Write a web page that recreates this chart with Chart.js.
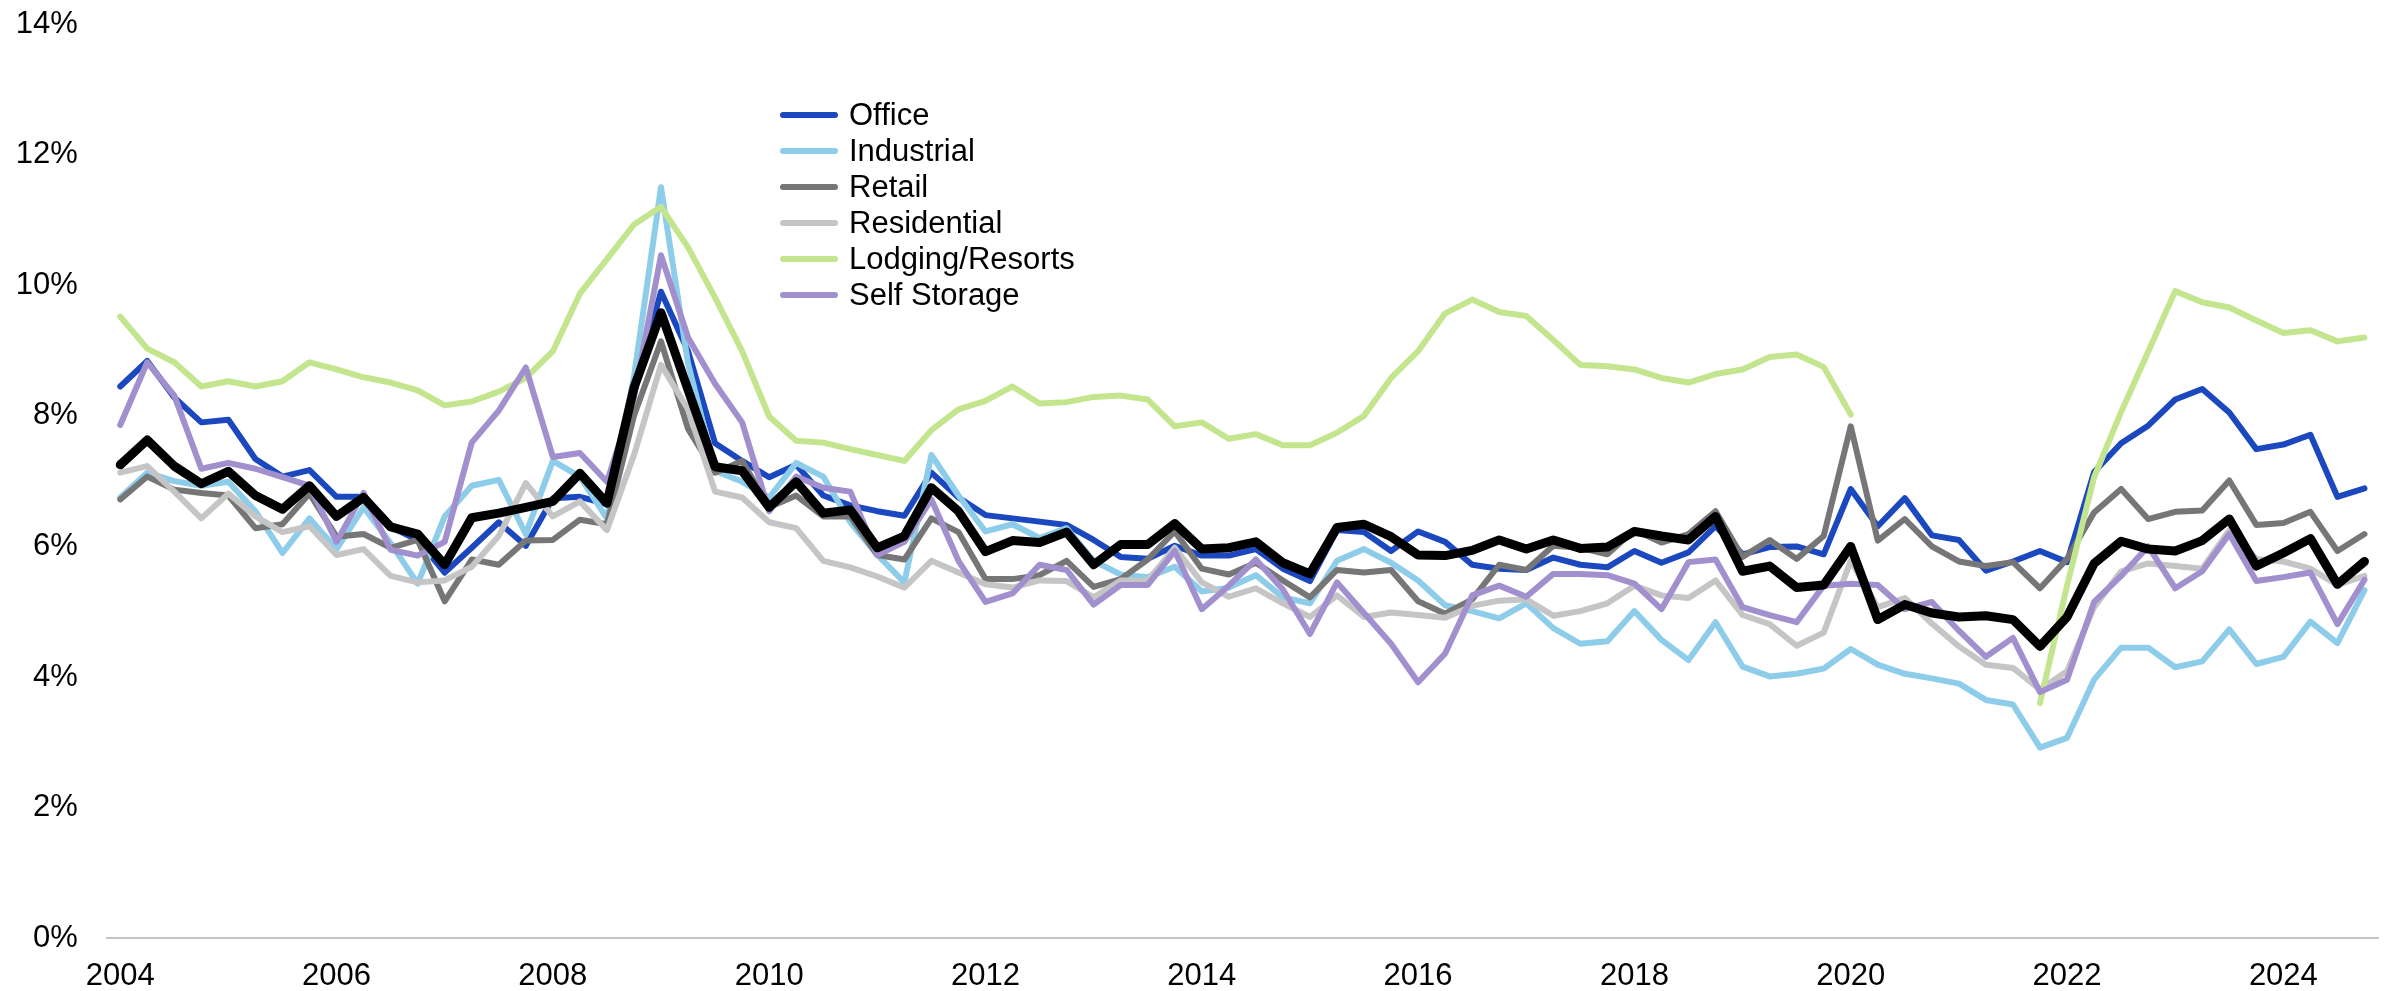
<!DOCTYPE html>
<html><head><meta charset="utf-8">
<script src="https://cdn.jsdelivr.net/npm/chart.js@4"></script>
<style>html,body{margin:0;padding:0;background:#fff;} canvas{display:block;}</style>
</head><body>
<canvas id="c" width="2392" height="991"></canvas>
<script>
const years = [2004,2005,2006,2007,2008,2009,2010,2011,2012,2013,2014,2015,2016,2017,2018,2019,2020,2021,2022,2023,2024];
const quarters = ['Q1','Q2','Q3','Q4'];
const categories = [];
years.forEach(y => quarters.forEach(q => categories.push(y + ' ' + q)));
const tickLabels = ['2004','2006','2008','2010','2012','2014','2016','2018','2020','2022','2024'];
const yTicks = [0,2,4,6,8,10,12,14];

const office = [8.45,8.84,8.28,7.90,7.94,7.34,7.07,7.17,6.76,6.76,6.30,6.10,5.60,5.98,6.37,6.01,6.74,6.76,6.65,8.40,9.90,8.99,7.58,7.31,7.06,7.25,6.78,6.63,6.54,6.47,7.13,6.75,6.48,6.43,6.38,6.33,6.10,5.84,5.81,6.01,5.86,5.86,5.96,5.66,5.47,6.25,6.22,5.93,6.23,6.07,5.72,5.66,5.64,5.83,5.72,5.68,5.93,5.75,5.91,6.31,5.88,5.99,6.00,5.88,6.88,6.31,6.74,6.17,6.10,5.63,5.77,5.93,5.76,7.14,7.58,7.85,8.25,8.41,8.05,7.49,7.56,7.71,6.76,6.89];
const industrial = [6.75,7.13,7.00,6.93,6.99,6.54,5.90,6.43,5.96,6.60,6.05,5.43,6.46,6.93,7.02,6.19,7.31,7.07,6.43,8.60,11.50,8.80,7.16,6.99,6.75,7.28,7.07,6.37,5.87,5.45,7.40,6.78,6.23,6.34,6.13,6.28,5.78,5.57,5.53,5.69,5.31,5.37,5.56,5.22,5.13,5.78,5.96,5.75,5.48,5.10,5.01,4.90,5.13,4.75,4.51,4.55,5.01,4.57,4.26,4.84,4.16,4.01,4.05,4.13,4.43,4.19,4.05,3.98,3.90,3.65,3.58,2.92,3.07,3.96,4.45,4.45,4.15,4.24,4.73,4.20,4.31,4.85,4.52,5.33];
const retail = [6.72,7.07,6.87,6.82,6.78,6.28,6.34,6.81,6.15,6.19,5.98,6.10,5.16,5.80,5.72,6.09,6.10,6.41,6.34,8.00,9.14,7.80,7.13,7.31,6.60,6.78,6.46,6.46,5.87,5.80,6.43,6.22,5.50,5.50,5.56,5.78,5.38,5.50,5.80,6.23,5.66,5.57,5.75,5.48,5.22,5.64,5.60,5.64,5.16,4.97,5.19,5.72,5.64,6.01,5.98,5.88,6.25,6.06,6.19,6.54,5.84,6.10,5.81,6.16,7.84,6.09,6.42,6.00,5.77,5.70,5.76,5.36,5.81,6.52,6.88,6.42,6.53,6.55,7.01,6.33,6.36,6.53,5.93,6.19];
const residential = [7.13,7.23,6.84,6.43,6.81,6.46,6.22,6.31,5.87,5.96,5.55,5.45,5.48,5.69,6.16,6.97,6.46,6.69,6.25,7.40,8.78,8.10,6.84,6.75,6.37,6.28,5.78,5.68,5.54,5.37,5.78,5.60,5.42,5.37,5.48,5.47,5.22,5.48,5.48,5.98,5.45,5.23,5.36,5.13,4.92,5.25,4.92,4.99,4.95,4.91,5.09,5.17,5.19,4.94,5.01,5.13,5.40,5.25,5.21,5.48,4.95,4.81,4.48,4.68,5.78,5.07,5.21,4.82,4.47,4.19,4.14,3.81,4.09,5.07,5.62,5.74,5.70,5.66,6.25,5.81,5.77,5.66,5.41,5.55];
const lodging = [9.52,9.03,8.82,8.45,8.53,8.45,8.53,8.82,8.71,8.59,8.51,8.39,8.16,8.22,8.37,8.58,8.99,9.87,10.40,10.93,11.20,10.58,9.81,8.99,7.99,7.62,7.59,7.49,7.40,7.31,7.78,8.10,8.23,8.45,8.19,8.21,8.29,8.31,8.25,7.84,7.90,7.65,7.72,7.55,7.55,7.74,8.00,8.58,8.99,9.57,9.78,9.59,9.53,9.16,8.78,8.76,8.71,8.58,8.51,8.64,8.71,8.90,8.94,8.75,8.02,null,null,null,null,null,null,3.60,5.40,7.06,8.06,8.98,9.91,9.74,9.66,9.46,9.27,9.31,9.14,9.20];
const selfStorage = [7.86,8.82,8.31,7.19,7.28,7.19,7.06,6.93,6.07,6.82,5.95,5.86,6.07,7.59,8.08,8.74,7.37,7.43,6.99,8.28,10.46,9.20,8.49,7.90,6.54,7.07,6.90,6.84,5.87,6.07,6.72,5.78,5.15,5.28,5.72,5.64,5.11,5.41,5.41,5.93,5.04,5.40,5.80,5.34,4.66,5.45,4.98,4.51,3.92,4.36,5.25,5.40,5.23,5.58,5.58,5.56,5.43,5.04,5.76,5.80,5.07,4.95,4.84,5.40,5.43,5.41,5.04,5.15,4.71,4.31,4.60,3.77,3.96,5.15,5.55,6.00,5.36,5.62,6.19,5.47,5.53,5.60,4.81,5.49];
const average = [7.25,7.63,7.23,6.96,7.15,6.78,6.57,6.93,6.46,6.75,6.30,6.19,5.72,6.44,6.51,6.60,6.69,7.12,6.66,8.43,9.58,8.40,7.22,7.16,6.60,6.99,6.51,6.56,5.98,6.16,6.90,6.54,5.92,6.09,6.06,6.22,5.72,6.03,6.03,6.35,5.96,5.98,6.07,5.75,5.58,6.29,6.34,6.15,5.87,5.86,5.94,6.10,5.96,6.10,5.97,5.99,6.23,6.16,6.10,6.46,5.62,5.70,5.37,5.41,6.00,4.88,5.11,4.98,4.92,4.94,4.88,4.47,4.92,5.74,6.08,5.96,5.93,6.09,6.42,5.70,5.90,6.12,5.42,5.77];

const FONT = "'Liberation Sans', Arial, sans-serif";
const seriesDefs = [
  {label:'Office', data:office, color:'#1C48BF', order:6, legend:true},
  {label:'Industrial', data:industrial, color:'#8ECDEA', order:5, legend:true},
  {label:'Retail', data:retail, color:'#767676', order:4, legend:true},
  {label:'Residential', data:residential, color:'#C5C5C5', order:3, legend:true},
  {label:'Lodging/Resorts', data:lodging, color:'#C3E58E', order:2, legend:true},
  {label:'Self Storage', data:selfStorage, color:'#A190CD', order:1, legend:true},
  {label:'Average', data:average, color:'#000000', order:0, legend:false, width:9}
];

const legendPlugin = {
  id: 'customLegend',
  afterDraw(chart) {
    const ctx = chart.ctx;
    ctx.save();
    ctx.font = '31px ' + FONT;
    ctx.textBaseline = 'middle';
    ctx.textAlign = 'left';
    let y = 115;
    seriesDefs.filter(s => s.legend).forEach(s => {
      ctx.strokeStyle = s.color;
      ctx.lineWidth = 6;
      ctx.lineCap = 'round';
      ctx.beginPath();
      ctx.moveTo(783, y);
      ctx.lineTo(835, y);
      ctx.stroke();
      ctx.fillStyle = '#000';
      ctx.fillText(s.label, 849, y + 1);
      y += 36;
    });
    ctx.restore();
  }
};

new Chart(document.getElementById('c'), {
  type: 'line',
  data: {
    labels: categories,
    datasets: seriesDefs.map(s => ({
      label: s.label,
      data: s.data,
      borderColor: s.color,
      backgroundColor: s.color,
      borderWidth: s.width || 6,
      pointRadius: 0,
      pointHoverRadius: 0,
      tension: 0,
      fill: false,
      spanGaps: false,
      order: s.order,
      borderJoinStyle: 'round',
      borderCapStyle: 'round'
    }))
  },
  options: {
    responsive: false,
    devicePixelRatio: 1,
    animation: false,
    layout: {padding: {top: 24, right: 14, left: 0, bottom: 0}},
    plugins: {legend: {display: false}, tooltip: {enabled: false}},
    scales: {
      x: {
        type: 'category',
        offset: true,
        grid: {display: false, drawTicks: false},
        border: {display: true, color: '#C4C4C4', width: 2},
        ticks: {
          autoSkip: false, maxRotation: 0, minRotation: 0, padding: 20,
          color: '#000', font: {family: FONT, size: 31},
          callback: function(value, index) {
            const c = categories[index];
            const yr = c.slice(0, 4);
            return (c.endsWith('Q1') && tickLabels.includes(yr)) ? yr : '';
          }
        },
        afterFit: function(scale) { scale.height = 52.7; scale.paddingLeft = 0; scale.paddingRight = 0; }
      },
      y: {
        min: 0, max: 14,
        grid: {display: false, drawTicks: false},
        border: {display: false},
        afterBuildTicks: function(scale) { scale.ticks = yTicks.map(v => ({value: v})); },
        ticks: {
          padding: 29, color: '#000', font: {family: FONT, size: 31},
          callback: v => v + '%'
        },
        afterFit: function(scale) { scale.width = 106.7; scale.paddingTop = 0; scale.paddingBottom = 0; }
      }
    }
  },
  plugins: [legendPlugin]
});
</script>
</body></html>
